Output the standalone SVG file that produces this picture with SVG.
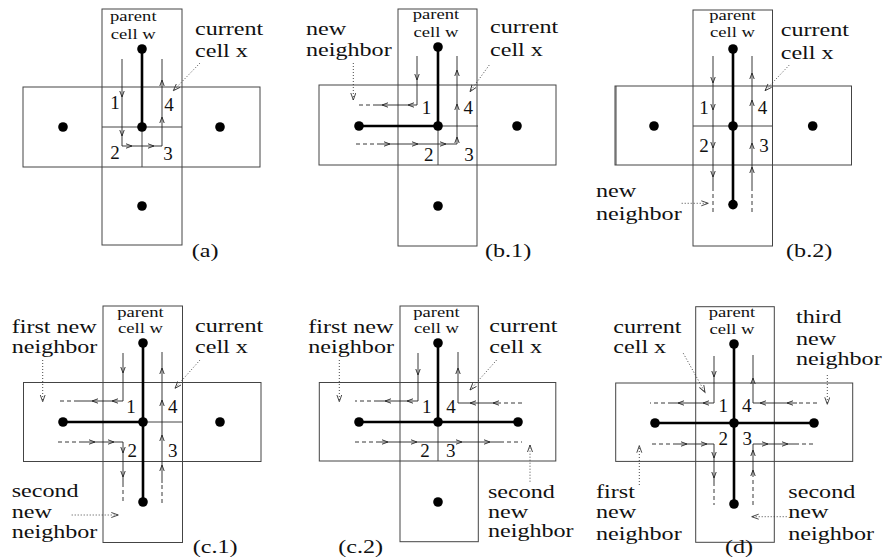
<svg xmlns="http://www.w3.org/2000/svg" xmlns:xlink="http://www.w3.org/1999/xlink" width="886" height="559" viewBox="0 0 886 559">
<style>
.cell{fill:none;stroke:#444;stroke-width:1}
.thin{fill:none;stroke:#444;stroke-width:1}
.tree{fill:none;stroke:#000;stroke-width:2.6}
.dot{fill:#000}
.walk{fill:none;stroke:#222;stroke-width:0.9}
.dash{fill:none;stroke:#222;stroke-width:0.9;stroke-dasharray:4 3}
.lead{fill:none;stroke:#333;stroke-width:0.9;stroke-dasharray:1 2;marker-end:url(#la)}
text{font-family:"Liberation Serif","Times New Roman",serif;fill:#111}
.big{font-size:18px}
.sm{font-size:14px;text-anchor:middle}
.num{font-size:19px;text-anchor:middle}
</style>
<defs>
<path id="ah" d="M-6,-2.2 L0,0 L-6,2.2" fill="none" stroke="#222" stroke-width="0.9"/>
<marker id="la" markerUnits="userSpaceOnUse" markerWidth="9" markerHeight="7" refX="7" refY="3" orient="auto">
<path d="M0,0.5 L7,3 L0,5.5" fill="none" stroke="#333" stroke-width="0.9"/>
</marker>
</defs>
<rect width="886" height="559" fill="#fff"/>

<!-- Panel (a) -->
<g id="panel-a">
<g id="a-cells" transform="translate(142,127)">
<rect class="cell" x="-40" y="-118" width="80" height="236"/>
<rect class="cell" x="-119" y="-40" width="237" height="80"/>
<path class="thin" d="M-40,0 H40 M0,0 V40"/>
</g>
<g id="a-connectors" transform="translate(142,127)">
<path class="tree" d="M0,-78 V0"/>
<path class="walk" d="M-20,-68 V19 H20 V-68"/>
<use xlink:href="#ah" transform="translate(-20,-30) rotate(90)"/>
<use xlink:href="#ah" transform="translate(-20,9) rotate(90)"/>
<use xlink:href="#ah" transform="translate(-10,19)"/>
<use xlink:href="#ah" transform="translate(12,19)"/>
<use xlink:href="#ah" transform="translate(20,-10) rotate(-90)"/>
<use xlink:href="#ah" transform="translate(20,-47) rotate(-90)"/>
</g>
<g id="a-nodes" transform="translate(142,127)">
<circle class="dot" cx="0" cy="-78" r="4.8"/>
<circle class="dot" cx="0" cy="0" r="4.8"/>
<circle class="dot" cx="-79" cy="0" r="4.8"/>
<circle class="dot" cx="78" cy="0" r="4.8"/>
<circle class="dot" cx="0" cy="79" r="4.8"/>
</g>
<g id="a-labels">
<text class="num" x="115" y="109">1</text>
<text class="num" x="169" y="111">4</text>
<text class="num" x="115" y="158.5">2</text>
<text class="num" x="168" y="159.5">3</text>
<g transform="translate(133.3,0) scale(1.33,1)"><text class="sm" y="20.7">parent</text><text class="sm" y="39.3">cell w</text></g>
<g transform="translate(195,0) scale(1.34,1)"><text class="big" y="35">current</text><text class="big" y="57.3">cell x</text><text class="big" x="-2.5" y="257">(a)</text></g>
<path class="lead" d="M200,63 L173.3,90.7"/>
</g>
</g>

<!-- Panel (b.1) -->
<g id="panel-b1">
<g id="b1-cells" transform="translate(438,126)">
<rect class="cell" x="-40" y="-117" width="79" height="237"/>
<rect class="cell" x="-119" y="-41" width="237" height="80"/>
<path class="thin" d="M0,0 H40 M0,0 V39"/>
</g>
<g id="b1-connectors" transform="translate(438,126)">
<path class="tree" d="M0,-79 V0 H-79"/>
<path class="walk" d="M-21,-70 V-21 H-61"/>
<path class="dash" d="M-61,-21 H-82"/>
<use xlink:href="#ah" transform="translate(-21,-46) rotate(90)"/>
<use xlink:href="#ah" transform="translate(-30,-21) rotate(180)"/>
<use xlink:href="#ah" transform="translate(-56,-21) rotate(180)"/>
<path class="dash" d="M-82,18 H-61"/>
<path class="walk" d="M-61,18 H19 V-70"/>
<use xlink:href="#ah" transform="translate(-48,18)"/>
<use xlink:href="#ah" transform="translate(-20,18)"/>
<use xlink:href="#ah" transform="translate(8,18)"/>
<use xlink:href="#ah" transform="translate(19,11) rotate(-90)"/>
<use xlink:href="#ah" transform="translate(19,-22) rotate(-90)"/>
<use xlink:href="#ah" transform="translate(19,-56) rotate(-90)"/>
</g>
<g id="b1-nodes" transform="translate(438,126)">
<circle class="dot" cx="0" cy="-79" r="4.8"/>
<circle class="dot" cx="0" cy="0" r="4.8"/>
<circle class="dot" cx="-79" cy="0" r="4.8"/>
<circle class="dot" cx="79" cy="0" r="4.8"/>
<circle class="dot" cx="0" cy="80" r="4.8"/>
</g>
<g id="b1-labels">
<text class="num" x="426.5" y="114">1</text>
<text class="num" x="468.3" y="113.5">4</text>
<text class="num" x="428.8" y="161">2</text>
<text class="num" x="469" y="161">3</text>
<g transform="translate(436,0) scale(1.33,1)"><text class="sm" y="19">parent</text><text class="sm" y="37.3">cell w</text></g>
<g transform="translate(490,0) scale(1.34,1)"><text class="big" y="33.3">current</text><text class="big" y="56">cell x</text></g>
<g transform="translate(306,0) scale(1.34,1)"><text class="big" y="35">new</text><text class="big" y="56">neighbor</text></g>
<g transform="translate(485,0) scale(1.34,1)"><text class="big" y="257">(b.1)</text></g>
<path class="lead" d="M353.3,63 L353.3,100"/>
<path class="lead" d="M489.3,65 L470,91.7"/>
</g>
</g>

<!-- Panel (b.2) -->
<g id="panel-b2">
<g id="b2-cells" transform="translate(733,126)">
<rect class="cell" x="-40" y="-116" width="79.5" height="236"/>
<rect class="cell" x="-118" y="-40" width="236.5" height="79"/>
<path class="thin" d="M-117,-40 V39" stroke-width="1.2"/>
<path class="thin" d="M-40,0 H39.5"/>
</g>
<g id="b2-connectors" transform="translate(733,126)">
<path class="tree" d="M0,-77 V79"/>
<path class="walk" d="M-20,-70 V61"/>
<path class="dash" d="M-20,61 V86"/>
<use xlink:href="#ah" transform="translate(-20,-43) rotate(90)"/>
<use xlink:href="#ah" transform="translate(-20,-16) rotate(90)"/>
<use xlink:href="#ah" transform="translate(-20,22) rotate(90)"/>
<use xlink:href="#ah" transform="translate(-20,51) rotate(90)"/>
<path class="dash" d="M19,86 V61"/>
<path class="walk" d="M19,61 V-70"/>
<use xlink:href="#ah" transform="translate(19,41) rotate(-90)"/>
<use xlink:href="#ah" transform="translate(19,17) rotate(-90)"/>
<use xlink:href="#ah" transform="translate(19,-26) rotate(-90)"/>
<use xlink:href="#ah" transform="translate(19,-53) rotate(-90)"/>
</g>
<g id="b2-nodes" transform="translate(733,126)">
<circle class="dot" cx="0" cy="-77" r="4.8"/>
<circle class="dot" cx="0" cy="0" r="4.8"/>
<circle class="dot" cx="-79" cy="0" r="4.8"/>
<circle class="dot" cx="79.7" cy="0" r="4.8"/>
<circle class="dot" cx="0" cy="78.6" r="4.8"/>
</g>
<g id="b2-labels">
<text class="num" x="704" y="113.5">1</text>
<text class="num" x="762.5" y="113.5">4</text>
<text class="num" x="704" y="152">2</text>
<text class="num" x="764" y="152">3</text>
<g transform="translate(732.5,0) scale(1.33,1)"><text class="sm" y="20">parent</text><text class="sm" y="37.3">cell w</text></g>
<g transform="translate(780.7,0) scale(1.34,1)"><text class="big" y="36">current</text><text class="big" y="59">cell x</text><text class="big" x="4" y="257">(b.2)</text></g>
<g transform="translate(596,0) scale(1.34,1)"><text class="big" y="196.7">new</text><text class="big" y="220">neighbor</text></g>
<path class="lead" d="M789.3,65 L765,90.7"/>
<path class="lead" d="M681.7,203.3 L708.3,203.3"/>
</g>
</g>

<!-- Panel (c.1) -->
<g id="panel-c1">
<g id="c1-cells" transform="translate(143,422)">
<rect class="cell" x="-40" y="-116" width="79.5" height="236.5"/>
<rect class="cell" x="-119.5" y="-39.5" width="237.5" height="79"/>
<path class="thin" d="M0,0 H39.5"/>
</g>
<g id="c1-connectors" transform="translate(143,422)">
<path class="tree" d="M0,-79 V80 M0,0 H-80"/>
<path class="walk" d="M-20,-69 V-21 H-65"/>
<path class="dash" d="M-65,-21 H-85"/>
<use xlink:href="#ah" transform="translate(-20,-49) rotate(90)"/>
<use xlink:href="#ah" transform="translate(-31,-21) rotate(180)"/>
<use xlink:href="#ah" transform="translate(-51,-21) rotate(180)"/>
<path class="dash" d="M-85,20 H-62"/>
<path class="walk" d="M-62,20 H-20 V61"/>
<path class="dash" d="M-20,61 V81"/>
<use xlink:href="#ah" transform="translate(-48,20)"/>
<use xlink:href="#ah" transform="translate(-29,20)"/>
<use xlink:href="#ah" transform="translate(-20,31) rotate(90)"/>
<use xlink:href="#ah" transform="translate(-20,55) rotate(90)"/>
<path class="dash" d="M19,81 V61"/>
<path class="walk" d="M19,61 V-70"/>
<use xlink:href="#ah" transform="translate(19,43) rotate(-90)"/>
<use xlink:href="#ah" transform="translate(19,13) rotate(-90)"/>
<use xlink:href="#ah" transform="translate(19,-22) rotate(-90)"/>
<use xlink:href="#ah" transform="translate(19,-54) rotate(-90)"/>
</g>
<g id="c1-nodes" transform="translate(143,422)">
<circle class="dot" cx="0" cy="-79" r="4.8"/>
<circle class="dot" cx="0" cy="0" r="4.8"/>
<circle class="dot" cx="-80" cy="0" r="4.8"/>
<circle class="dot" cx="77" cy="0" r="4.8"/>
<circle class="dot" cx="0" cy="80" r="4.8"/>
</g>
<g id="c1-labels">
<text class="num" x="131" y="412.5">1</text>
<text class="num" x="172.7" y="412.5">4</text>
<text class="num" x="132.3" y="456.7">2</text>
<text class="num" x="172.7" y="456.7">3</text>
<g transform="translate(140.5,0) scale(1.33,1)"><text class="sm" y="316.7">parent</text><text class="sm" y="333.3">cell w</text></g>
<g transform="translate(195,0) scale(1.34,1)"><text class="big" y="331.7">current</text><text class="big" y="352.7">cell x</text><text class="big" x="-1.7" y="553">(c.1)</text></g>
<g transform="translate(11.7,0) scale(1.34,1)"><text class="big" y="333.3">first new</text><text class="big" y="353.3">neighbor</text><text class="big" y="496.7">second</text><text class="big" y="518.3">new</text><text class="big" y="538.3">neighbor</text></g>
<path class="lead" d="M42.7,360 L42.7,401.7"/>
<path class="lead" d="M200,360 L175,388.3"/>
<path class="lead" d="M71.7,515 L118.3,515"/>
</g>
</g>

<!-- Panel (c.2) -->
<g id="panel-c2">
<g id="c2-cells" transform="translate(438,422)">
<rect class="cell" x="-38" y="-116" width="78.3" height="235.7"/>
<rect class="cell" x="-118.7" y="-39.5" width="236.5" height="78.5"/>
<path class="thin" d="M0,0 V39"/>
</g>
<g id="c2-connectors" transform="translate(438,422)">
<path class="tree" d="M0,-79 V0 M-79,0 H80"/>
<path class="walk" d="M-20,-69 V-21 H-60"/>
<path class="dash" d="M-60,-21 H-83"/>
<use xlink:href="#ah" transform="translate(-20,-47) rotate(90)"/>
<use xlink:href="#ah" transform="translate(-31,-21) rotate(180)"/>
<use xlink:href="#ah" transform="translate(-53,-21) rotate(180)"/>
<path class="dash" d="M84,-19 H63"/>
<path class="walk" d="M63,-19 H20 V-70"/>
<use xlink:href="#ah" transform="translate(55,-19) rotate(180)"/>
<use xlink:href="#ah" transform="translate(32,-19) rotate(180)"/>
<use xlink:href="#ah" transform="translate(20,-54) rotate(-90)"/>
<path class="dash" d="M-83,20 H-61"/>
<path class="walk" d="M-61,20 H62"/>
<path class="dash" d="M62,20 H84"/>
<use xlink:href="#ah" transform="translate(-50,20)"/>
<use xlink:href="#ah" transform="translate(-21,20)"/>
<use xlink:href="#ah" transform="translate(24,20)"/>
<use xlink:href="#ah" transform="translate(52,20)"/>
</g>
<g id="c2-nodes" transform="translate(438,422)">
<circle class="dot" cx="0" cy="-79" r="4.8"/>
<circle class="dot" cx="0" cy="0" r="4.8"/>
<circle class="dot" cx="-79" cy="0" r="4.8"/>
<circle class="dot" cx="80" cy="0" r="4.8"/>
<circle class="dot" cx="0" cy="80" r="4.8"/>
</g>
<g id="c2-labels">
<text class="num" x="426.7" y="412.5">1</text>
<text class="num" x="451" y="412.5">4</text>
<text class="num" x="425" y="456.7">2</text>
<text class="num" x="450.7" y="456.7">3</text>
<g transform="translate(436.5,0) scale(1.33,1)"><text class="sm" y="316.7">parent</text><text class="sm" y="333.3">cell w</text></g>
<g transform="translate(489.3,0) scale(1.34,1)"><text class="big" y="331.7">current</text><text class="big" y="352.7">cell x</text><text class="big" x="-1" y="498.3">second</text><text class="big" x="-1" y="518.3">new</text><text class="big" x="-1" y="536.7">neighbor</text></g>
<g transform="translate(308.3,0) scale(1.34,1)"><text class="big" y="333.3">first new</text><text class="big" y="353.3">neighbor</text><text class="big" x="22.4" y="553">(c.2)</text></g>
<path class="lead" d="M339.3,360 L339.3,401.7"/>
<path class="lead" d="M496.7,360 L470,390"/>
<path class="lead" d="M530,481.7 L530,445"/>
</g>
</g>

<!-- Panel (d) -->
<g id="panel-d">
<g id="d-cells" transform="translate(734,423)">
<rect class="cell" x="-38.3" y="-116.3" width="78.6" height="235.6"/>
<rect class="cell" x="-118.3" y="-40" width="237" height="78.4"/>
</g>
<g id="d-connectors" transform="translate(734,423)">
<path class="tree" d="M0,-79 V81 M-79,0 H80"/>
<path class="walk" d="M-20,-67 V-20 H-62"/>
<path class="dash" d="M-62,-20 H-84"/>
<use xlink:href="#ah" transform="translate(-20,-46) rotate(90)"/>
<use xlink:href="#ah" transform="translate(-31,-20) rotate(180)"/>
<use xlink:href="#ah" transform="translate(-56,-20) rotate(180)"/>
<path class="dash" d="M83,-20 H63"/>
<path class="walk" d="M63,-20 H19 V-68"/>
<use xlink:href="#ah" transform="translate(53,-20) rotate(180)"/>
<use xlink:href="#ah" transform="translate(26,-20) rotate(180)"/>
<use xlink:href="#ah" transform="translate(19,-45) rotate(-90)"/>
<path class="dash" d="M-82,21 H-61"/>
<path class="walk" d="M-61,21 H-20 V59"/>
<path class="dash" d="M-20,59 V82"/>
<use xlink:href="#ah" transform="translate(-47,21)"/>
<use xlink:href="#ah" transform="translate(-27,21)"/>
<use xlink:href="#ah" transform="translate(-20,35) rotate(90)"/>
<use xlink:href="#ah" transform="translate(-20,55) rotate(90)"/>
<path class="dash" d="M19,82 V52"/>
<path class="walk" d="M19,52 V21 H61"/>
<path class="dash" d="M61,21 H81"/>
<use xlink:href="#ah" transform="translate(19,47) rotate(-90)"/>
<use xlink:href="#ah" transform="translate(19,27) rotate(-90)"/>
<use xlink:href="#ah" transform="translate(34,21)"/>
<use xlink:href="#ah" transform="translate(54,21)"/>
</g>
<g id="d-nodes" transform="translate(734,423)">
<circle class="dot" cx="0" cy="-79" r="4.8"/>
<circle class="dot" cx="0" cy="0" r="4.8"/>
<circle class="dot" cx="-79" cy="0" r="4.8"/>
<circle class="dot" cx="80" cy="0" r="4.8"/>
<circle class="dot" cx="0" cy="81" r="4.8"/>
</g>
<g id="d-labels">
<text class="num" x="723.3" y="412.3">1</text>
<text class="num" x="746.7" y="412.3">4</text>
<text class="num" x="723.3" y="444.5">2</text>
<text class="num" x="747.3" y="444.5">3</text>
<g transform="translate(732,0) scale(1.33,1)"><text class="sm" y="317.3">parent</text><text class="sm" y="334.3">cell w</text></g>
<g transform="translate(613.3,0) scale(1.34,1)"><text class="big" y="333.3">current</text><text class="big" y="353.3">cell x</text></g>
<g transform="translate(796,0) scale(1.34,1)"><text class="big" y="323.3">third</text><text class="big" y="345">new</text><text class="big" y="365">neighbor</text></g>
<g transform="translate(596,0) scale(1.34,1)"><text class="big" y="498.3">first</text><text class="big" y="517.7">new</text><text class="big" y="540">neighbor</text></g>
<g transform="translate(788.3,0) scale(1.34,1)"><text class="big" y="498.3">second</text><text class="big" y="517.7">new</text><text class="big" y="540">neighbor</text></g>
<g transform="translate(725,0) scale(1.34,1)"><text class="big" y="553">(d)</text></g>
<path class="lead" d="M683.3,353.3 L705,392.3"/>
<path class="lead" d="M827.3,375 L827.3,404.3"/>
<path class="lead" d="M639.3,485 L639.3,445.7"/>
<path class="lead" d="M786.7,516.7 L751.7,516.7"/>
</g>
</g>
</svg>
